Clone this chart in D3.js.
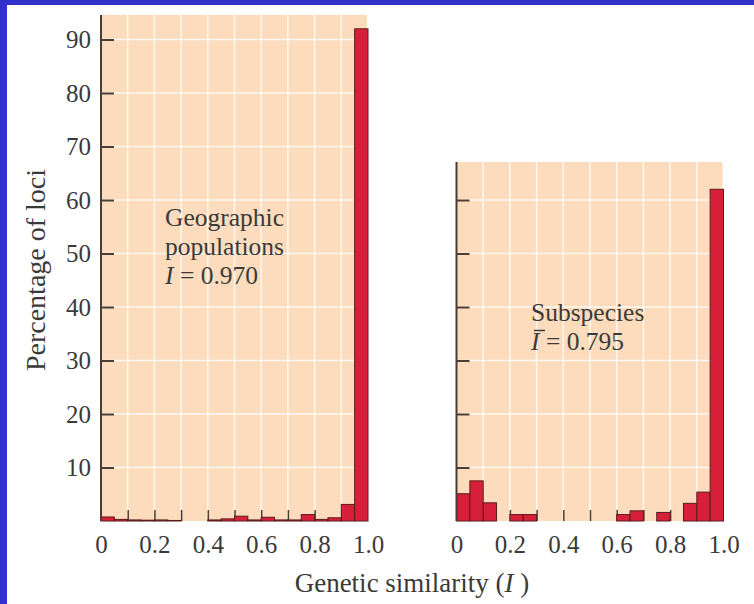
<!DOCTYPE html>
<html>
<head>
<meta charset="utf-8">
<script src="https://cdn.jsdelivr.net/npm/d3@7"></script>
<style>
  body { margin: 0; background: #fff; }
  svg text { font-family: "Liberation Serif", "DejaVu Serif", serif; fill: #3a3a3a; }
</style>
</head>
<body>
<div id="chart"></div>
<script>
// bin starts (width 0.05)
const bins = [0, 0.05, 0.1, 0.15, 0.2, 0.25, 0.3, 0.35, 0.4, 0.45,
              0.5, 0.55, 0.6, 0.65, 0.7, 0.75, 0.8, 0.85, 0.9, 0.95];
const geoValues = [0.75, 0.3, 0.2, 0.15, 0.2, 0.1, 0, 0, 0.2, 0.4,
                   0.9, 0.2, 0.7, 0.2, 0.2, 1.2, 0.3, 0.6, 3.1, 92];
const subValues = [5.1, 7.5, 3.4, 0, 1.2, 1.2, 0, 0, 0, 0,
                   0, 0, 1.2, 1.9, 0, 1.6, 0, 3.3, 5.4, 62];
const geoYTicks = [10, 20, 30, 40, 50, 60, 70, 80, 90];
const subYTicks = [10, 20, 30, 40, 50, 60];
const xTickLabels = [0, 0.2, 0.4, 0.6, 0.8, 1.0];
const xGrid = [0.1, 0.2, 0.3, 0.4, 0.5, 0.6, 0.7, 0.8, 0.9];

const width = 754;
const height = 604;
const baseY = 521;

const svg = d3.select("#chart")
  .append("svg")
  .attr("width", width)
  .attr("height", height);

// blue frame on left and top
svg.append("rect").attr("x", 0).attr("y", 0).attr("width", width).attr("height", 5).attr("fill", "#3430cc");
svg.append("rect").attr("x", 0).attr("y", 0).attr("width", 7).attr("height", height).attr("fill", "#3430cc");

const y = d3.scaleLinear().domain([0, 100]).range([baseY, baseY - 535]);

function drawPanel(values, x0, topValue, yTicks, showLabels) {
  const x = d3.scaleLinear().domain([0, 1]).range([x0, x0 + 267]);
  const g = svg.append("g");
  const top = y(topValue);

  // background
  g.append("rect")
    .attr("x", x(0))
    .attr("y", top)
    .attr("width", x(1) - x(0) - 1)
    .attr("height", baseY - top)
    .attr("fill", "#fddcbd");

  // gridlines
  g.selectAll(".vg")
    .data(xGrid)
    .join("line")
    .attr("x1", d => x(d)).attr("x2", d => x(d))
    .attr("y1", top).attr("y2", baseY)
    .attr("stroke", "#fff8f0")
    .attr("stroke-width", 1.5);

  g.selectAll(".hg")
    .data(yTicks)
    .join("line")
    .attr("x1", x(0)).attr("x2", x(1) - 1)
    .attr("y1", d => y(d)).attr("y2", d => y(d))
    .attr("stroke", "#fff8f0")
    .attr("stroke-width", 1.5);

  // small x ticks at baseline
  g.append("g")
    .attr("transform", `translate(0,${baseY})`)
    .call(d3.axisBottom(x).tickValues(xGrid).tickSize(-11).tickFormat(""))
    .call(a => a.select(".domain").remove())
    .call(a => a.selectAll("line").attr("stroke", "#4a3e34").attr("stroke-width", 1.5));

  // bars
  const data = bins.map((b, i) => ({ b, v: values[i] })).filter(d => d.v > 0);
  g.selectAll("rect.bar")
    .data(data)
    .join("rect")
    .attr("class", "bar")
    .attr("x", d => x(d.b))
    .attr("y", d => y(d.v))
    .attr("width", x(0.05) - x(0))
    .attr("height", d => baseY - y(d.v))
    .attr("fill", "#d81f3a")
    .attr("stroke", "#5a1c1c")
    .attr("stroke-width", 1);

  // y axis
  g.append("g")
    .attr("transform", `translate(${x(0)},0)`)
    .call(d3.axisLeft(y).tickValues(yTicks).tickSize(-13).tickPadding(10)
      .tickFormat(showLabels ? d3.format("d") : ""))
    .call(a => a.select(".domain").remove())
    .call(a => a.selectAll("line").attr("stroke", "#4a3e34").attr("stroke-width", 2))
    .call(a => a.selectAll("text").attr("font-size", 25).attr("fill", "#3a3a3a")
      .style("font-family", "'Liberation Serif', serif"));

  g.append("line")
    .attr("x1", x(0)).attr("x2", x(0))
    .attr("y1", top).attr("y2", baseY)
    .attr("stroke", "#4a3e34")
    .attr("stroke-width", 2);

  // x tick labels
  g.append("g")
    .attr("transform", `translate(0,${baseY})`)
    .call(d3.axisBottom(x).tickValues(xTickLabels).tickSize(0).tickPadding(14)
      .tickFormat(d => d === 0 ? "0" : d3.format(".1f")(d)))
    .call(a => a.select(".domain").remove())
    .call(a => a.selectAll("text").attr("font-size", 25).attr("fill", "#3a3a3a")
      .style("font-family", "'Liberation Serif', serif"));

  return x;
}

drawPanel(geoValues, 101, 94.6, geoYTicks, true);
drawPanel(subValues, 456.5, 67.1, subYTicks, false);

// annotations
const ann1 = svg.append("text").attr("font-size", 25.5);
ann1.append("tspan").attr("x", 165).attr("y", 226).text("Geographic");
ann1.append("tspan").attr("x", 165).attr("y", 255).text("populations");
const l3 = ann1.append("tspan").attr("x", 165).attr("y", 284);
l3.append("tspan").attr("font-style", "italic").text("I");
l3.append("tspan").text(" = 0.970");

const ann2 = svg.append("text").attr("font-size", 25.5);
ann2.append("tspan").attr("x", 531).attr("y", 321).text("Subspecies");
const m2 = ann2.append("tspan").attr("x", 531).attr("y", 350);
m2.append("tspan").attr("font-style", "italic").text("I");
m2.append("tspan").text(" = 0.795");
// bar over the mean I
svg.append("line")
  .attr("x1", 534).attr("x2", 545)
  .attr("y1", 330.5).attr("y2", 330.5)
  .attr("stroke", "#3a3a3a")
  .attr("stroke-width", 1.5);

// axis titles
const xt = svg.append("text")
  .attr("x", 412)
  .attr("y", 592)
  .attr("text-anchor", "middle")
  .attr("font-size", 27);
xt.append("tspan").text("Genetic similarity (");
xt.append("tspan").attr("font-style", "italic").text("I");
xt.append("tspan").text(" )");

svg.append("text")
  .attr("transform", "translate(45,270) rotate(-90)")
  .attr("text-anchor", "middle")
  .attr("font-size", 28)
  .text("Percentage of loci");
</script>
</body>
</html>
